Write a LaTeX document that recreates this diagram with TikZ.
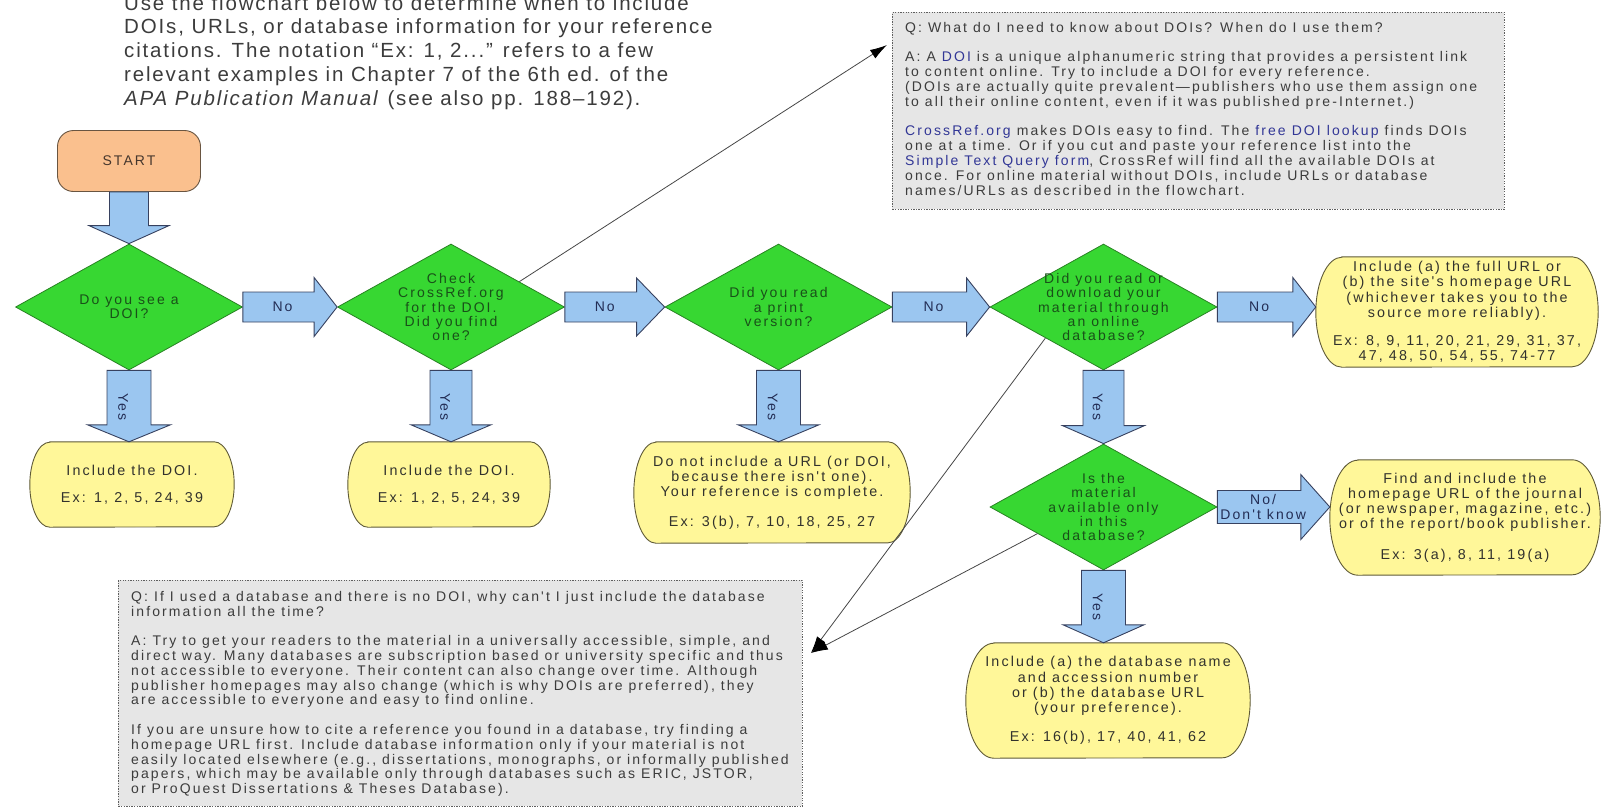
\documentclass[tikz,border=0pt]{standalone}
\usepackage{fontspec}
\setmainfont{Liberation Sans}
\newfontfamily\hfont[LetterSpace=9]{Liberation Sans}
\newfontfamily\bfont[LetterSpace=15]{Liberation Sans}
\usetikzlibrary{calc,shapes.geometric,arrows.meta}
\pgfdeclarelayer{background}
\pgfsetlayers{background,main}
\definecolor{dgreen}{RGB}{55,215,50}
\definecolor{dgline}{RGB}{40,130,35}
\definecolor{dgtext}{RGB}{25,80,25}
\definecolor{ablue}{RGB}{155,198,240}
\definecolor{adraw}{RGB}{55,65,95}
\definecolor{atext}{RGB}{35,45,85}
\definecolor{yfill}{RGB}{255,247,153}
\definecolor{ydraw}{RGB}{95,90,55}
\definecolor{ytext}{RGB}{50,50,45}
\definecolor{sfill}{RGB}{250,192,142}
\definecolor{sdraw}{RGB}{105,85,65}
\definecolor{stext}{RGB}{70,55,45}
\definecolor{qfill}{RGB}{230,230,230}
\definecolor{qdraw}{RGB}{95,95,95}
\definecolor{qtextc}{RGB}{60,60,60}
\definecolor{linkc}{RGB}{50,55,150}
\definecolor{cgray}{RGB}{70,70,70}
\definecolor{htext}{RGB}{60,60,60}
\tikzset{
 decision/.style={diamond, draw=dgline, line width=0.8pt, fill=dgreen, inner sep=0pt, minimum width=227pt, minimum height=126pt},
 dtext/.style={align=center, text=dgtext, font=\bfont\fontsize{14}{14.4}\selectfont, inner sep=0pt},
 ybox/.style={draw=none, inner sep=0pt, align=center, text=ytext, font=\bfont\fontsize{14.3}{15.2}\selectfont},
 yshp/.style={fill=yfill, draw=ydraw, line width=0.9pt},
 qbox/.style={fill=qfill, draw=qdraw, line width=0.9pt, dash pattern=on 1.3pt off 1.3pt, inner sep=0pt},
 qtext/.style={align=left, text=qtextc, font=\bfont\fontsize{14}{14.8}\selectfont, inner sep=0pt, anchor=north west},
 htextst/.style={align=left, text=htext, font=\hfont\fontsize{20.5}{23.8}\selectfont, inner sep=0pt, anchor=north west},
 blockarrow/.style={fill=ablue, draw=adraw, line width=0.9pt, line join=miter},
 alabel/.style={text=atext, align=center, font=\bfont\fontsize{14}{15}\selectfont, inner sep=0pt},
 conn/.style={draw=cgray, line width=0.8pt, -{Latex[length=17pt,width=10pt,color=black]}},
 startbox/.style={rectangle, rounded corners=16pt, fill=sfill, draw=sdraw, line width=0.9pt, minimum width=143pt, minimum height=61pt, text=stext, font=\bfont\fontsize{14}{15}\selectfont}
}
% horizontal block arrow: from, to, name, label, shaft half, head half, head length
\newcommand\harr[7]{%
 \coordinate (#3b) at ($(#2)+(-#7,0)$);
 \filldraw[blockarrow] ($(#1)+(0,-#5)$) -- ($(#3b)+(0,-#5)$) -- ($(#3b)+(0,-#6)$) -- (#2) -- ($(#3b)+(0,#6)$) -- ($(#3b)+(0,#5)$) -- ($(#1)+(0,#5)$) -- cycle;
 \node[alabel] (#3) at ($(#1)!0.5!(#3b)+(4,0)$) {#4};}
% vertical block arrow
\newcommand\varr[7]{%
 \coordinate (#3b) at ($(#2)+(0,-#7)$);
 \filldraw[blockarrow] ($(#1)+(-#5,0)$) -- ($(#3b)+(-#5,0)$) -- ($(#3b)+(-#6,0)$) -- (#2) -- ($(#3b)+(#6,0)$) -- ($(#3b)+(#5,0)$) -- ($(#1)+(#5,0)$) -- cycle;
 \node[alabel, rotate=-90] (#3) at ($(#1)!0.5!(#3b)+(-6,9)$) {#4};}
% terminator outline behind a yellow node: name, rx, ry
\newcommand\yshape[3]{%
 \begin{pgfonlayer}{background}
 \filldraw[yshp] ($(#1.north west)+(#2,0)$) -- ($(#1.north east)+(-#2,0)$) arc[start angle=-90, end angle=90, x radius=#2, y radius=#3] -- ($(#1.south west)+(#2,0)$) arc[start angle=90, end angle=270, x radius=#2, y radius=#3] -- cycle;
 \end{pgfonlayer}}
\begin{document}
\begin{tikzpicture}[x=1pt,y=-1pt]
\useasboundingbox (0,0) rectangle (1601,809);
\clip (0,0) rectangle (1601,809);
% header
\node[htextst] (hdr) at (124,-5) {Use the flowchart below to determine when to include\\DOIs, URLs, or database information for your reference\\citations. The notation “Ex: 1, 2...” refers to a few\\relevant examples in Chapter 7 of the 6th ed. of the\\\textit{APA Publication Manual} (see also pp. 188–192).};
% start
\node[startbox] (start) at (129,161) {START};
% decisions
\node[decision] (d1) at (129,307) {};
\node[dtext] (d1t) at (d1.center) {Do you see a\\DOI?};
\node[decision] (d2) at (451,307) {};
\node[dtext] (d2t) at (d2.center) {Check\\CrossRef.org\\for the DOI.\\Did you find\\one?};
\node[decision] (d3) at (778.5,307) {};
\node[dtext] (d3t) at (d3.center) {Did you read\\a print\\version?};
\node[decision] (d4) at (1103.5,307) {};
\node[dtext] (d4t) at (d4.center) {Did you read or\\download your\\material through\\an online\\database?};
\node[decision] (d5) at (1103.5,507) {};
\node[dtext] (d5t) at (d5.center) {Is the\\material\\available only\\in this\\database?};
% outcomes
\node[ybox, minimum width=204pt, minimum height=85pt] (y1) at (132,484.5) {Include the DOI.\\[12pt]Ex: 1, 2, 5, 24, 39};
\yshape{y1}{20}{42.5}
\node[ybox, minimum width=202pt, minimum height=85pt] (y2) at (449,484.5) {Include the DOI.\\[12pt]Ex: 1, 2, 5, 24, 39};
\yshape{y2}{20}{42.5}
\node[ybox, minimum width=276pt, minimum height=101pt] (y3) at (772,492.5) {Do not include a URL (or DOI,\\because there isn't one).\\Your reference is complete.\\[14pt]Ex: 3(b), 7, 10, 18, 25, 27};
\yshape{y3}{22}{50.5}
\node[ybox, minimum width=282pt, minimum height=110pt] (y4) at (1457,312) {Include (a) the full URL or\\(b) the site's homepage URL\\(whichever takes you to the\\source more reliably).\\[13pt]Ex: 8, 9, 11, 20, 21, 29, 31, 37,\\47, 48, 50, 54, 55, 74-77};
\yshape{y4}{26}{55}
\node[ybox, minimum width=284pt, minimum height=115pt] (y5) at (1108,700.5) {Include (a) the database name\\and accession number\\or (b) the database URL\\(your preference).\\[14pt]Ex: 16(b), 17, 40, 41, 62};
\yshape{y5}{28}{57.5}
\node[ybox, minimum width=270pt, minimum height=115pt] (y6) at (1465,517.5) {Find and include the\\homepage URL of the journal\\(or newspaper, magazine, etc.)\\or of the report/book publisher.\\[15pt]Ex: 3(a), 8, 11, 19(a)};
\yshape{y6}{28}{57.5}
% start arrow
\coordinate (sa) at (d1.north |- start.south);
\coordinate (sab) at ($(d1.north)+(0,-18)$);
\filldraw[blockarrow] ($(sa)+(-19.5,0)$) -- ($(sab)+(-19.5,0)$) -- ($(sab)+(-40,0)$) -- (d1.north) -- ($(sab)+(40,0)$) -- ($(sab)+(19.5,0)$) -- ($(sa)+(19.5,0)$) -- cycle;
% No arrows
\harr{d1.east}{d2.west}{n1}{No}{15}{29.5}{23}
\harr{d2.east}{d3.west}{n2}{No}{15}{29}{28}
\harr{d3.east}{d4.west}{n3}{No}{15}{29}{23}
\coordinate (y4l) at (d4.east -| y4.west);
\harr{d4.east}{y4l}{n4}{No}{15}{29.5}{23}
\coordinate (y6l) at (d5.east -| y6.west);
\harr{d5.east}{y6l}{n5}{No/\\Don't know}{16.5}{32.5}{29}
% Yes arrows
\coordinate (y1t) at (d1.south |- y1.north);
\varr{d1.south}{y1t}{v1}{Yes}{22}{41.5}{17}
\coordinate (y2t) at (d2.south |- y2.north);
\varr{d2.south}{y2t}{v2}{Yes}{21}{40}{17}
\coordinate (y3t) at (d3.south |- y3.north);
\varr{d3.south}{y3t}{v3}{Yes}{22}{40.5}{17}
\varr{d4.south}{d5.north}{v4}{Yes}{20.5}{41}{18}
\coordinate (y5t) at (d5.south |- y5.north);
\varr{d5.south}{y5t}{v5}{Yes}{22}{40.5}{18}
% question boxes
\node[qbox, minimum width=612pt, minimum height=197pt, anchor=north west] (qa) at (892,12) {};
\node[qtext] (qat) at ($(qa.north west)+(13,10)$) {Q: What do I need to know about DOIs? When do I use them?\\[14.8pt]A: A \textcolor{linkc}{DOI} is a unique alphanumeric string that provides a persistent link\\to content online. Try to include a DOI for every reference.\\(DOIs are actually quite prevalent—publishers who use them assign one\\to all their online content, even if it was published pre-Internet.)\\[14.8pt]\textcolor{linkc}{CrossRef.org} makes DOIs easy to find. The \textcolor{linkc}{free DOI lookup} finds DOIs\\one at a time. Or if you cut and paste your reference list into the\\\textcolor{linkc}{Simple Text Query form}, CrossRef will find all the available DOIs at\\once. For online material without DOIs, include URLs or database\\names/URLs as described in the flowchart.};
\node[qbox, minimum width=684pt, minimum height=226pt, anchor=north west] (qb) at (118,580) {};
\node[qtext] (qbt) at ($(qb.north west)+(13,11)$) {Q: If I used a database and there is no DOI, why can't I just include the database\\information all the time?\\[14.8pt]A: Try to get your readers to the material in a universally accessible, simple, and\\direct way. Many databases are subscription based or university specific and thus\\not accessible to everyone. Their content can also change over time. Although\\publisher homepages may also change (which is why DOIs are preferred), they\\are accessible to everyone and easy to find online.\\[14.8pt]If you are unsure how to cite a reference you found in a database, try finding a\\homepage URL first. Include database information only if your material is not\\easily located elsewhere (e.g., dissertations, monographs, or informally published\\papers, which may be available only through databases such as ERIC, JSTOR,\\or ProQuest Dissertations \& Theses Database).};
% connectors
\coordinate (c1s) at ($(d2.north)!0.6!(d2.east)$);
\coordinate (c1e) at ($(qa.north west)+(-5,33)$);
\draw[conn] (c1s) -- (c1e);
\coordinate (c2s) at ($(d4.west)!0.49!(d4.south)$);
\coordinate (c3s) at ($(d5.west)!0.42!(d5.south)$);
\coordinate (c2e) at ($(qb.north east)+(8,73)$);
\draw[conn] (c2s) -- (c2e);
\draw[conn] (c3s) -- (c2e);
\end{tikzpicture}
\end{document}
